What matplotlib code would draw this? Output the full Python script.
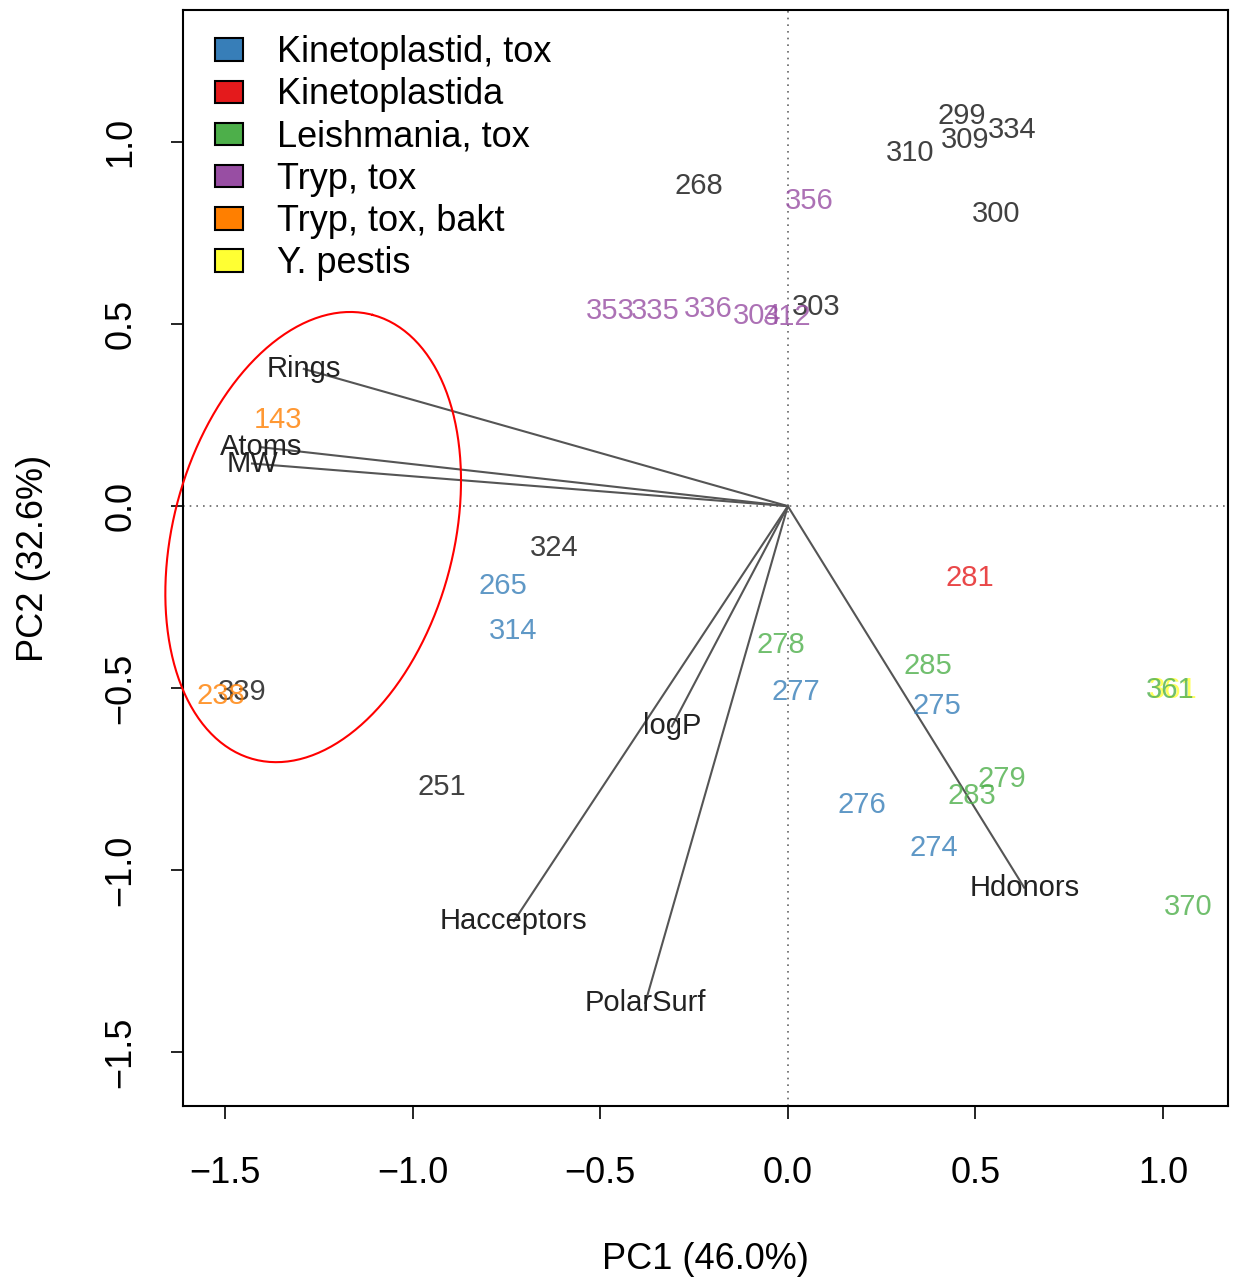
import numpy as np
import matplotlib.pyplot as plt
from matplotlib.patches import Patch

plt.rcParams['font.family'] = ['Liberation Sans', 'DejaVu Sans']

# Grupy i kolory (paleta Set1)
groups = ["Kinetoplastid, tox", "Kinetoplastida", "Leishmania, tox",
          "Tryp, tox", "Tryp, tox, bakt", "Y. pestis"]
group_colors = ["#377EB8", "#E41A1C", "#4DAF4A", "#984EA3", "#FF7F00", "#FFFF33"]

# Punkty (etykiety związków) – grupa "none" rysowana na czarno
point_labels = ["299", "309", "334", "310", "268", "300", "303", "324", "339", "251",
                "356", "353", "335", "336", "304", "312",
                "143", "238",
                "265", "314", "277", "275", "276", "274",
                "278", "285", "279", "283", "370",
                "281", "361", "361"]
point_x = [0.464, 0.472, 0.597, 0.325, -0.237, 0.555, 0.075, -0.624, -1.453, -0.923,
           0.056, -0.472, -0.352, -0.213, -0.083, -0.003,
           -1.36, -1.512,
           -0.76, -0.733, 0.021, 0.397, 0.197, 0.389,
           -0.019, 0.373, 0.571, 0.491, 1.067,
           0.485, 1.026, 1.019]
point_y = [1.071, 1.005, 1.033, 0.970, 0.879, 0.802, 0.547, -0.115, -0.511, -0.772,
           0.838, 0.536, 0.536, 0.541, 0.522, 0.519,
           0.236, -0.522,
           -0.22, -0.343, -0.511, -0.549, -0.821, -0.940,
           -0.382, -0.440, -0.750, -0.797, -1.102,
           -0.198, -0.505, -0.505]
point_group = ["none"] * 10 + ["Tryp, tox"] * 6 + ["Tryp, tox, bakt"] * 2 + \
              ["Kinetoplastid, tox"] * 6 + ["Leishmania, tox"] * 5 + \
              ["Kinetoplastida", "Y. pestis", "Leishmania, tox"]

# Ładunki (strzałki)
load_names = ["Rings", "Atoms", "MW", "logP", "Hacceptors", "PolarSurf", "Hdonors"]
load_x = [-1.290, -1.405, -1.428, -0.309, -0.730, -0.380, 0.630]
load_y = [0.377, 0.162, 0.117, -0.605, -1.140, -1.365, -1.048]

# Elipsa (półosie w pikselach obrazu)
ell_center = (-1.265, -0.085)
ell_a, ell_b, ell_tilt = 230, 140, np.deg2rad(15)
px_x, px_y = 375.0, 364.0

fig = plt.figure(figsize=(12.43, 12.81), dpi=100)
ax = fig.add_axes([0.1472, 0.1366, 0.8407, 0.8556])
ax.set_xlim(-1.612, 1.173)
ax.set_ylim(-1.648, 1.363)

ax.axhline(0, color="#666666", lw=1.2, ls=(0, (1, 3)), zorder=1)
ax.axvline(0, color="#666666", lw=1.2, ls=(0, (1, 3)), zorder=1)

for name, lx, ly in zip(load_names, load_x, load_y):
    ax.plot([0, lx], [0, ly], color="#555555", lw=1.5, zorder=2)
    ax.text(lx, ly, name, fontsize=21, color="#222222", ha="center", va="center", zorder=3)

color_of = dict(zip(groups, group_colors))
for lab, x, y, g in zip(point_labels, point_x, point_y, point_group):
    c = color_of.get(g, "#111111")
    ax.text(x, y, lab, fontsize=21, color=c, alpha=0.8, ha="center", va="center", zorder=4)

# Czerwona elipsa
t = np.linspace(0, 2 * np.pi, 300)
dx = ell_a * np.cos(t) * np.sin(ell_tilt) + ell_b * np.sin(t) * np.cos(ell_tilt)
dy = ell_a * np.cos(t) * np.cos(ell_tilt) - ell_b * np.sin(t) * np.sin(ell_tilt)
ax.plot(ell_center[0] + dx / px_x, ell_center[1] + dy / px_y, color="red", lw=1.5,
        zorder=5, clip_on=False)

ax.set_xticks([-1.5, -1.0, -0.5, 0.0, 0.5, 1.0])
ax.set_yticks([-1.5, -1.0, -0.5, 0.0, 0.5, 1.0])
ax.tick_params(axis="both", labelsize=26, length=9, width=1.2, direction="out")
ax.tick_params(axis="x", pad=27)
ax.tick_params(axis="y", pad=23)
plt.setp(ax.get_yticklabels(), rotation=90, va="center")
for s in ax.spines.values():
    s.set_linewidth(1.5)

ax.set_xlabel("PC1 (46.0%)", fontsize=26, labelpad=37)
ax.set_ylabel("PC2 (32.6%)", fontsize=26, labelpad=38)

handles = [Patch(facecolor=c, edgecolor="black", lw=1.5) for c in group_colors]
ax.legend(handles, groups, loc="upper left", frameon=False, fontsize=26,
          handlelength=0.78, handleheight=0.58, handletextpad=0.95,
          labelspacing=0.2, borderaxespad=0.3, bbox_to_anchor=(0.006, 1.0))

fig.savefig("out.png", dpi=100)
